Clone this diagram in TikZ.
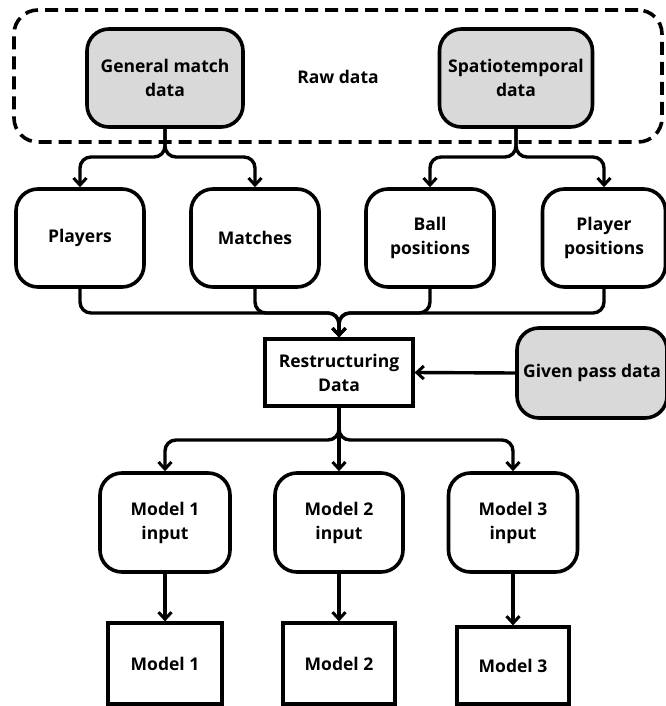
\documentclass[tikz,border=0pt]{standalone}
\usepackage{fontspec}
\setmainfont{Open Sans}
\usetikzlibrary{arrows.meta}
\definecolor{boxgray}{HTML}{D9D9D9}
\tikzset{
  base/.style={draw=black, line width=3.4pt, align=center, inner sep=2pt,
    font=\fontsize{17.5}{24}\selectfont\bfseries},
  rbox/.style={base, line width=3.6pt, rounded corners=22pt},
  gbox/.style={rbox, fill=boxgray},
  sbox/.style={base, line width=3.2pt},
  conn/.style={line width=3.4pt, rounded corners=11pt},
  arr/.style={conn, -{Straight Barb[length=7pt,width=13pt,line width=3pt]}},
}
\begin{document}
\begin{tikzpicture}[x=1pt,y=1pt]
\useasboundingbox (0,0) rectangle (665,-706);
% raw data region
\node[draw=black, line width=3.6pt, dash pattern=on 13pt off 7pt, rounded corners=24pt,
  minimum width=648pt, minimum height=132pt] (raw) at (338,-76) {};
\node[font=\fontsize{17.5}{24}\selectfont\bfseries] (rawlbl) at (338,-77) {Raw data};
\node[gbox, minimum width=156pt, minimum height=98pt] (gen) at (165,-78) {General match\\data};
\node[gbox, minimum width=153pt, minimum height=98pt] (spat) at (516,-78) {Spatiotemporal\\data};
% second row
\node[rbox, minimum width=128pt, minimum height=98pt] (players) at (80,-238) {Players};
\node[rbox, minimum width=128pt, minimum height=98pt] (matches) at (255,-238) {Matches};
\node[rbox, minimum width=128pt, minimum height=98pt] (ball) at (430,-238) {Ball\\positions};
\node[rbox, minimum width=123pt, minimum height=98pt] (ppos) at (604,-238) {Player\\positions};
% restructuring
\node[sbox, minimum width=148pt, minimum height=67pt] (restr) at (339,-372.5) {Restructuring\\Data};
\node[gbox, minimum width=150pt, minimum height=90pt] (given) at (592,-373) {Given pass data};
% model inputs
\node[rbox, minimum width=130pt, minimum height=99pt] (m1in) at (165,-522.5) {Model 1\\input};
\node[rbox, minimum width=128pt, minimum height=99pt] (m2in) at (339,-522.5) {Model 2\\input};
\node[rbox, minimum width=129pt, minimum height=99pt] (m3in) at (513,-522.5) {Model 3\\input};
% models
\node[sbox, minimum width=114pt, minimum height=81pt] (m1) at (165,-663.5) {Model 1};
\node[sbox, minimum width=112pt, minimum height=81pt] (m2) at (339,-663.5) {Model 2};
\node[sbox, minimum width=112pt, minimum height=77pt] (m3) at (513,-665.5) {Model 3};
% coordinates for forks
\coordinate (gfork) at (165,-157);
\coordinate (sfork) at (516,-157);
\coordinate (merge) at (339,-313);
\coordinate (rfork) at (339,-440);
% forks from raw data
\draw[arr] (gen.south) -- (gfork) -| (players.north);
\draw[arr] (gen.south) -- (gfork) -| (matches.north);
\draw[arr] (spat.south) -- (sfork) -| (ball.north);
\draw[arr] (spat.south) -- (sfork) -| (ppos.north);
% merge
\draw[arr] (players.south) |- (merge) -- (restr.north);
\draw[arr] (matches.south) |- (merge) -- (restr.north);
\draw[arr] (ball.south) |- (merge) -- (restr.north);
\draw[arr] (ppos.south) |- (merge) -- (restr.north);
% given pass data
\draw[arr] (given.west) -- (restr.east);
% fork to model inputs
\draw[arr] (restr.south) -- (rfork) -| (m1in.north);
\draw[arr] (restr.south) -- (m2in.north);
\draw[arr] (restr.south) -- (rfork) -| (m3in.north);
% model inputs to models
\draw[arr] (m1in.south) -- (m1.north);
\draw[arr] (m2in.south) -- (m2.north);
\draw[arr] (m3in.south) -- (m3.north);
\end{tikzpicture}
\end{document}
